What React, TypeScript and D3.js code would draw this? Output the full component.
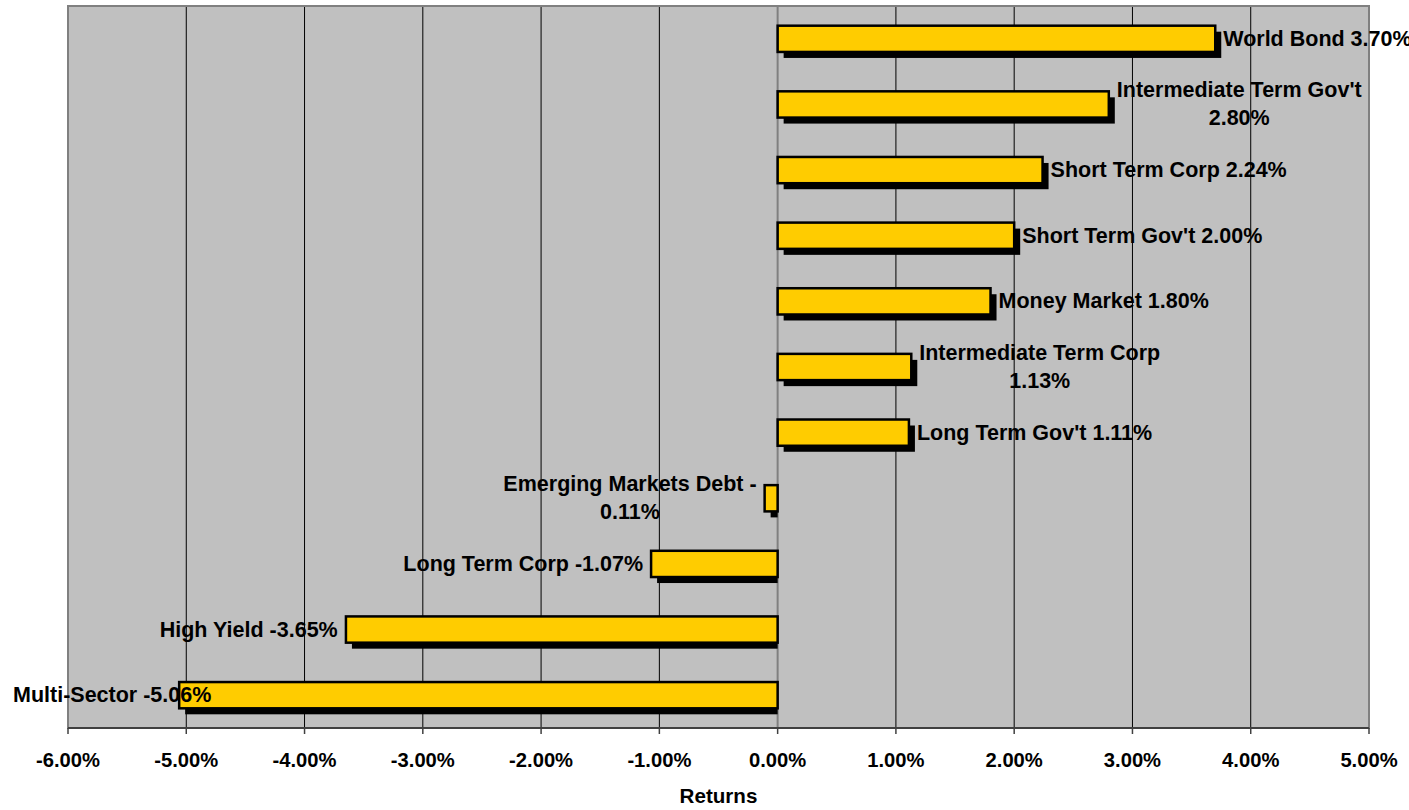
import React from "react";
import * as d3 from "d3";

// Fund category returns (%), listed top to bottom
const categories = [
  "World Bond",
  "Intermediate Term Gov't",
  "Short Term Corp",
  "Short Term Gov't",
  "Money Market",
  "Intermediate Term Corp",
  "Long Term Gov't",
  "Emerging Markets Debt",
  "Long Term Corp",
  "High Yield",
  "Multi-Sector",
];
const returns = [3.7, 2.8, 2.24, 2.0, 1.8, 1.13, 1.11, -0.11, -1.07, -3.65, -5.06];
const xTicks = [-6, -5, -4, -3, -2, -1, 0, 1, 2, 3, 4, 5];
const axisTitle = "Returns";

const W = 1409;
const H = 810;
const FONT = "'Liberation Sans', Arial, sans-serif";
const LABEL_SIZE = 21.5;
const TICK_SIZE = 20.2;
const TITLE_SIZE = 20.6;
const LABEL_MAX_W = 266;
const LABEL_GAP = 8;
const LINE_H = 28;
const SHADOW = 6;

let ctx: CanvasRenderingContext2D | null = null;
function textWidth(s: string, size: number) {
  if (!ctx) ctx = document.createElement("canvas").getContext("2d");
  if (!ctx) return s.length * size * 0.55;
  ctx.font = `bold ${size}px ${FONT}`;
  return ctx.measureText(s).width;
}

// Greedy wrap, breaking after spaces or hyphens
function wrap(s: string, maxW: number, size: number): string[] {
  const tokens = s.match(/[^ -]*[ -]?/g)!.filter((t) => t.length > 0);
  const lines: string[] = [];
  let cur = "";
  for (const t of tokens) {
    const test = cur + t;
    if (cur && textWidth(test.trimEnd(), size) > maxW) {
      lines.push(cur.trimEnd());
      cur = t;
    } else cur = test;
  }
  if (cur) lines.push(cur.trimEnd());
  return lines;
}

// percent with a plain hyphen for negatives
const fmt = (v: number) => d3.format(".2f")(v).replace("\u2212", "-") + "%";

export default function App() {
  const plot = { left: 68, right: 1369, top: 6, bottom: 728 };
  const x = d3.scaleLinear().domain([-6, 5]).range([plot.left, plot.right]);
  const y = d3
    .scaleBand<string>()
    .domain(categories)
    .range([plot.top, plot.bottom])
    .paddingInner(0.6)
    .paddingOuter(0.3);
  const x0 = x(0);
  const bh = y.bandwidth();

  const data = categories.map((c, i) => ({ name: c, value: returns[i] }));

  return (
    <svg
      width={W}
      height={H}
      style={{ position: "absolute", left: 0, top: 0, background: "#fff" }}
      fontFamily={FONT}
      fontWeight="bold"
    >
      {/* plot background */}
      <rect
        x={plot.left}
        y={plot.top}
        width={plot.right - plot.left}
        height={plot.bottom - plot.top}
        fill="#C0C0C0"
      />
      {/* vertical gridlines */}
      {xTicks
        .filter((t) => t !== -6 && t !== 5 && t !== 0)
        .map((t) => (
          <line
            key={"g" + t}
            x1={x(t)}
            x2={x(t)}
            y1={plot.top}
            y2={plot.bottom}
            stroke="#000"
            strokeWidth={1}
          />
        ))}
      {/* plot border */}
      <rect
        x={plot.left}
        y={plot.top}
        width={plot.right - plot.left}
        height={plot.bottom - plot.top}
        fill="none"
        stroke="#808080"
        strokeWidth={2}
      />
      {/* zero line */}
      <line x1={x0} x2={x0} y1={plot.top} y2={plot.bottom} stroke="#808080" strokeWidth={2} />
      {/* bottom axis */}
      <line
        x1={plot.left}
        x2={plot.right}
        y1={plot.bottom}
        y2={plot.bottom}
        stroke="#404040"
        strokeWidth={2}
      />
      {xTicks.map((t) => (
        <g key={"t" + t}>
          <line
            x1={x(t)}
            x2={x(t)}
            y1={plot.bottom}
            y2={plot.bottom + 6}
            stroke="#404040"
            strokeWidth={1.5}
          />
          <text x={x(t)} y={plot.bottom + 39} textAnchor="middle" fontSize={TICK_SIZE} fill="#000">
            {fmt(t)}
          </text>
        </g>
      ))}
      <text
        x={(plot.left + plot.right) / 2}
        y={plot.bottom + 75}
        textAnchor="middle"
        fontSize={TITLE_SIZE}
        fill="#000"
      >
        {axisTitle}
      </text>

      {/* bars with drop shadow */}
      {data.map((d) => {
        const xv = x(d.value);
        const left = Math.min(x0, xv);
        const right = Math.max(x0, xv);
        const top = y(d.name)!;
        const sLeft = left + SHADOW;
        const sRight = d.value > 0 ? right + SHADOW : right;
        return (
          <g key={"b" + d.name}>
            <rect
              x={sLeft}
              y={top + SHADOW}
              width={Math.max(0, sRight - sLeft)}
              height={bh}
              fill="#000"
            />
            <rect
              x={left}
              y={top}
              width={right - left}
              height={bh}
              fill="#FFCC00"
              stroke="#000"
              strokeWidth={2.5}
            />
          </g>
        );
      })}

      {/* data labels */}
      {data.map((d) => {
        const label = `${d.name} ${fmt(d.value)}`;
        const lines = wrap(label, LABEL_MAX_W, LABEL_SIZE);
        const widths = lines.map((l) => textWidth(l, LABEL_SIZE));
        const boxW = Math.max(...widths);
        const xv = x(d.value);
        let boxLeft = d.value >= 0 ? xv + LABEL_GAP : xv - LABEL_GAP - boxW;
        boxLeft = Math.max(boxLeft, 13);
        const cx = boxLeft + boxW / 2;
        const cy = y(d.name)! + bh / 2;
        const y0 = cy - ((lines.length - 1) * LINE_H) / 2;
        return (
          <text
            key={"l" + d.name}
            fontSize={LABEL_SIZE}
            textAnchor="middle"
            dominantBaseline="central"
            fill="#000"
          >
            {lines.map((l, i) => (
              <tspan key={i} x={cx} y={y0 + i * LINE_H}>
                {l}
              </tspan>
            ))}
          </text>
        );
      })}
    </svg>
  );
}
